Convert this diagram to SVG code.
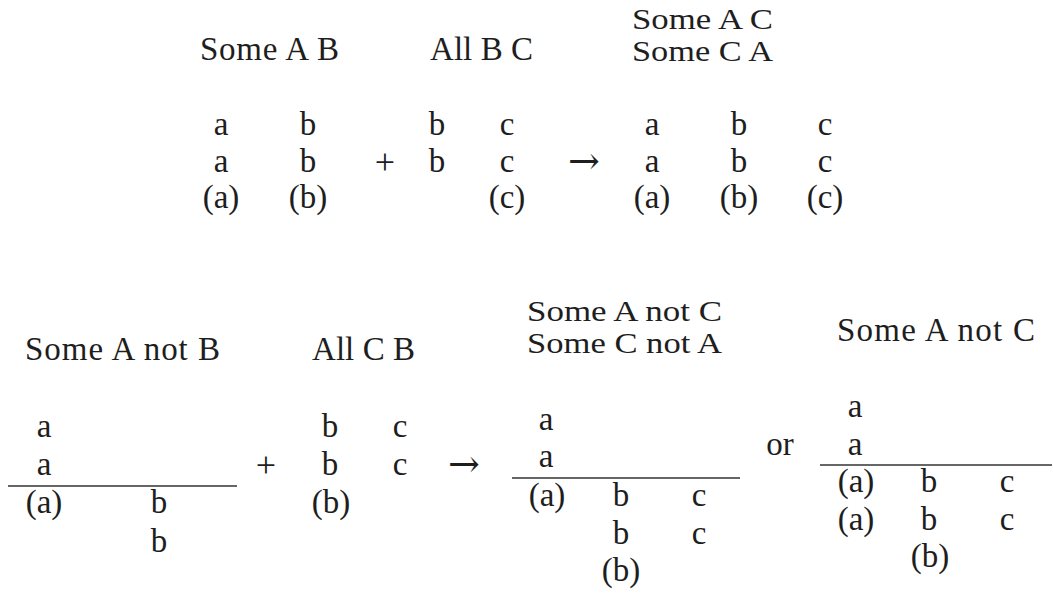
<svg xmlns="http://www.w3.org/2000/svg" width="1053" height="593" viewBox="0 0 1053 593">
<style>
text{font-family:"Liberation Serif","Times New Roman",Times,"DejaVu Serif",serif;font-size:33px;fill:#1e1e1e}
.c{text-anchor:middle}
.st{font-size:29px}
.sym{font-size:36px}
.arr{font-family:"DejaVu Serif","DejaVu Sans",serif;font-size:38px}
.rule{stroke:#333;stroke-width:1.6;fill:none}
</style>
<rect width="1053" height="593" fill="#ffffff"/>
<g id="top-premise1">
<text x="200" y="60" textLength="139" lengthAdjust="spacing">Some A B</text>
<text class="c" x="221" y="135">a</text><text class="c" x="308" y="135">b</text>
<text class="c" x="221" y="172">a</text><text class="c" x="308" y="172">b</text>
<text class="c" x="221" y="208">(a)</text><text class="c" x="308" y="208">(b)</text>
</g>
<g id="top-plus"><text class="c sym" x="385" y="174">+</text></g>
<g id="top-premise2">
<text x="430" y="60" textLength="103" lengthAdjust="spacing">All B C</text>
<text class="c" x="437" y="135">b</text><text class="c" x="507" y="135">c</text>
<text class="c" x="437" y="172">b</text><text class="c" x="507" y="172">c</text>
<text class="c" x="507" y="208">(c)</text>
</g>
<g id="top-arrow"><text class="c arr" x="584" y="174">→</text></g>
<g id="top-conclusion">
<text class="st" x="632" y="29" textLength="141" lengthAdjust="spacingAndGlyphs">Some A C</text>
<text class="st" x="632" y="61" textLength="141" lengthAdjust="spacingAndGlyphs">Some C A</text>
<text class="c" x="652" y="135">a</text><text class="c" x="739" y="135">b</text><text class="c" x="825" y="135">c</text>
<text class="c" x="652" y="172">a</text><text class="c" x="739" y="172">b</text><text class="c" x="825" y="172">c</text>
<text class="c" x="652" y="208">(a)</text><text class="c" x="739" y="208">(b)</text><text class="c" x="825" y="208">(c)</text>
</g>
<g id="bottom-premise1">
<text x="25" y="360" textLength="195" lengthAdjust="spacing">Some A not B</text>
<text class="c" x="44" y="437">a</text>
<text class="c" x="44" y="475">a</text>
<line class="rule" x1="8" y1="486" x2="237" y2="486"/>
<text class="c" x="44" y="513">(a)</text><text class="c" x="159" y="513">b</text>
<text class="c" x="159" y="552">b</text>
</g>
<g id="bottom-plus"><text class="c sym" x="266" y="477">+</text></g>
<g id="bottom-premise2">
<text x="312" y="360" textLength="103" lengthAdjust="spacing">All C B</text>
<text class="c" x="330" y="437">b</text><text class="c" x="400" y="437">c</text>
<text class="c" x="330" y="475">b</text><text class="c" x="400" y="475">c</text>
<text class="c" x="331" y="513">(b)</text>
</g>
<g id="bottom-arrow"><text class="c arr" x="464" y="477">→</text></g>
<g id="bottom-conclusion1">
<text class="st" x="527" y="321" textLength="195" lengthAdjust="spacingAndGlyphs">Some A not C</text>
<text class="st" x="527" y="353" textLength="195" lengthAdjust="spacingAndGlyphs">Some C not A</text>
<text class="c" x="546" y="430">a</text>
<text class="c" x="546" y="467">a</text>
<line class="rule" x1="512" y1="478" x2="740" y2="478"/>
<text class="c" x="547" y="506">(a)</text><text class="c" x="621" y="506">b</text><text class="c" x="699" y="506">c</text>
<text class="c" x="621" y="544">b</text><text class="c" x="699" y="544">c</text>
<text class="c" x="621" y="581">(b)</text>
</g>
<g id="bottom-or"><text class="c" x="780" y="455">or</text></g>
<g id="bottom-conclusion2">
<text x="837" y="341" textLength="198" lengthAdjust="spacing">Some A not C</text>
<text class="c" x="855" y="417">a</text>
<text class="c" x="855" y="455">a</text>
<line class="rule" x1="820" y1="465" x2="1052" y2="465"/>
<text class="c" x="856" y="492">(a)</text><text class="c" x="929" y="492">b</text><text class="c" x="1007" y="492">c</text>
<text class="c" x="856" y="530">(a)</text><text class="c" x="929" y="530">b</text><text class="c" x="1007" y="530">c</text>
<text class="c" x="930" y="567">(b)</text>
</g>
</svg>
